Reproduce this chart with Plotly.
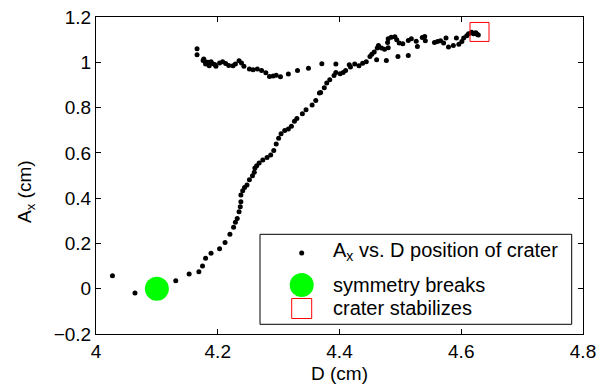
import plotly.graph_objects as go

# Crater position data: D (cm) vs A_x (cm)
D = [4.027, 4.064, 4.131, 4.153, 4.169, 4.175, 4.180, 4.189, 4.203, 4.212,
     4.220, 4.226, 4.229, 4.232, 4.235, 4.237, 4.238, 4.238, 4.241, 4.244,
     4.248, 4.252, 4.257, 4.260, 4.261, 4.264, 4.268, 4.274, 4.281, 4.287,
     4.292, 4.296, 4.300, 4.304, 4.310, 4.316, 4.321, 4.326, 4.330, 4.339,
     4.345, 4.355, 4.361, 4.367, 4.369, 4.375, 4.379, 4.384, 4.391, 4.394,
     4.401, 4.406, 4.410, 4.416, 4.418, 4.425, 4.432, 4.438, 4.444, 4.450,
     4.453, 4.457, 4.462, 4.464, 4.469, 4.474, 4.480, 4.479, 4.480, 4.485,
     4.491, 4.494, 4.498, 4.504, 4.513, 4.518, 4.526, 4.528, 4.536, 4.540,
     4.541, 4.556, 4.561, 4.566, 4.571, 4.575, 4.579, 4.587, 4.592, 4.596,
     4.601, 4.604, 4.609, 4.612, 4.617, 4.620, 4.624, 4.628, 4.626, 4.622,
     4.513, 4.496, 4.477, 4.461, 4.394, 4.371, 4.349, 4.331, 4.316, 4.303,
     4.296, 4.291, 4.285, 4.279, 4.272, 4.265, 4.258, 4.252, 4.243, 4.239,
     4.235, 4.229, 4.225, 4.218, 4.213, 4.208, 4.203, 4.197, 4.195, 4.189,
     4.186, 4.182, 4.179, 4.177, 4.180, 4.184, 4.176, 4.191, 4.166, 4.166]
Ax = [0.057, -0.019, 0.035, 0.065, 0.075, 0.100, 0.135, 0.157, 0.177, 0.204,
      0.241, 0.272, 0.293, 0.310, 0.340, 0.362, 0.384, 0.414, 0.433, 0.447,
      0.458, 0.481, 0.499, 0.514, 0.533, 0.543, 0.555, 0.568, 0.580, 0.590,
      0.610, 0.639, 0.664, 0.684, 0.699, 0.705, 0.717, 0.740, 0.752, 0.773,
      0.790, 0.811, 0.831, 0.864, 0.867, 0.887, 0.908, 0.923, 0.942, 0.955,
      0.949, 0.955, 0.964, 0.989, 0.979, 0.992, 0.985, 0.996, 1.002, 1.026,
      1.035, 1.045, 1.063, 1.074, 1.063, 1.058, 1.064, 1.087, 1.104, 1.111,
      1.113, 1.099, 1.085, 1.082, 1.096, 1.104, 1.093, 1.070, 1.110, 1.114,
      1.095, 1.087, 1.092, 1.095, 1.085, 1.107, 1.067, 1.074, 1.107, 1.080,
      1.092, 1.107, 1.117, 1.126, 1.133, 1.126, 1.130, 1.121, 1.124, 1.128,
      1.030, 1.026, 1.008, 1.011, 0.992, 0.993, 0.974, 0.964, 0.948, 0.936,
      0.943, 0.939, 0.937, 0.954, 0.964, 0.970, 0.967, 0.970, 0.982, 0.997,
      1.007, 0.992, 0.985, 0.986, 0.995, 1.002, 0.997, 0.982, 0.990, 1.002,
      0.985, 0.997, 1.004, 1.014, 0.992, 1.000, 1.008, 0.995, 1.033, 1.060]

break_D = [4.10]
break_Ax = [0.0]
stable_D = [4.630]
stable_Ax = [1.134]

x_ticks = [4.0, 4.2, 4.4, 4.6, 4.8]
y_ticks = [-0.2, 0.0, 0.2, 0.4, 0.6, 0.8, 1.0, 1.2]

legend_labels = ["A<sub>x</sub> vs. D position of crater",
                 "symmetry breaks", "crater stabilizes"]

FONT = "Liberation Sans"
W, H = 604, 387
L, R, T, B = 96, 21, 17, 53
PW, PH = W - L - R, H - T - B


def px(xp):
    return (xp - L) / PW


def py(yp):
    return (H - B - yp) / PH


fig = go.Figure()
fig.add_trace(go.Scatter(x=D, y=Ax, mode="markers",
                         marker=dict(color="black", size=5, line=dict(width=0)),
                         showlegend=False))
fig.add_trace(go.Scatter(x=break_D, y=break_Ax, mode="markers",
                         marker=dict(color="#00ff00", size=24, line=dict(width=0)),
                         showlegend=False))
fig.add_trace(go.Scatter(x=stable_D, y=stable_Ax, mode="markers",
                         marker=dict(symbol="square-open", color="#ff0000", size=19,
                                     line=dict(width=1, color="#ff0000")),
                         showlegend=False))

axis_common = dict(showline=True, linecolor="black", linewidth=1, mirror="allticks",
                   ticks="inside", ticklen=5, tickcolor="black", showgrid=False,
                   zeroline=False, tickfont=dict(family=FONT, size=19, color="black"))

fig.update_xaxes(range=[4.0, 4.8], tickvals=x_ticks,
                 ticktext=[f"{v:g}" for v in x_ticks],
                 title=dict(text="D (cm)", font=dict(family=FONT, size=19, color="black"),
                            standoff=5),
                 **axis_common)
fig.update_yaxes(range=[-0.2, 1.2], tickvals=y_ticks,
                 ticktext=[f"{v:g}".replace("-", "\u2212") for v in y_ticks],
                 **axis_common)

shapes = []
annotations = []
# legend box
shapes.append(dict(type="rect", xref="paper", yref="paper",
                   x0=px(260), x1=px(571.7), y0=py(324.3), y1=py(234.3),
                   line=dict(color="black", width=1), fillcolor="white", layer="above"))
sym_x = px(301.7)
rows_y = [253, 285, 308.5]
shapes.append(dict(type="circle", xref="paper", yref="paper", xsizemode="pixel",
                   ysizemode="pixel", xanchor=sym_x, yanchor=py(rows_y[0]),
                   x0=-2.5, x1=2.5, y0=-2.5, y1=2.5, fillcolor="black",
                   line=dict(width=0), layer="above"))
shapes.append(dict(type="circle", xref="paper", yref="paper", xsizemode="pixel",
                   ysizemode="pixel", xanchor=sym_x, yanchor=py(rows_y[1]),
                   x0=-12, x1=12, y0=-12, y1=12, fillcolor="#00ff00",
                   line=dict(width=0), layer="above"))
shapes.append(dict(type="rect", xref="paper", yref="paper", xsizemode="pixel",
                   ysizemode="pixel", xanchor=sym_x, yanchor=py(rows_y[2]),
                   x0=-10, x1=10, y0=-10, y1=10,
                   line=dict(color="#ff0000", width=1), layer="above"))
text_y = [251, 285, 308]
for lab, ty in zip(legend_labels, text_y):
    annotations.append(dict(text=lab, xref="paper", yref="paper", x=px(331), y=py(ty),
                            xanchor="left", yanchor="middle", showarrow=False,
                            font=dict(family=FONT, size=20, color="black")))
# y-axis title (placed as in the reference, slightly below the axis centre)
annotations.append(dict(text="A<sub>x</sub> (cm)", xref="paper", yref="paper",
                        x=px(26), y=py(192), xanchor="center", yanchor="middle",
                        textangle=-90, showarrow=False,
                        font=dict(family=FONT, size=19, color="black")))

fig.update_layout(width=W, height=H, margin=dict(l=L, r=R, t=T, b=B, autoexpand=False),
                  paper_bgcolor="white", plot_bgcolor="white",
                  shapes=shapes, annotations=annotations,
                  font=dict(family=FONT, color="black"))

fig.write_html("out.html")
